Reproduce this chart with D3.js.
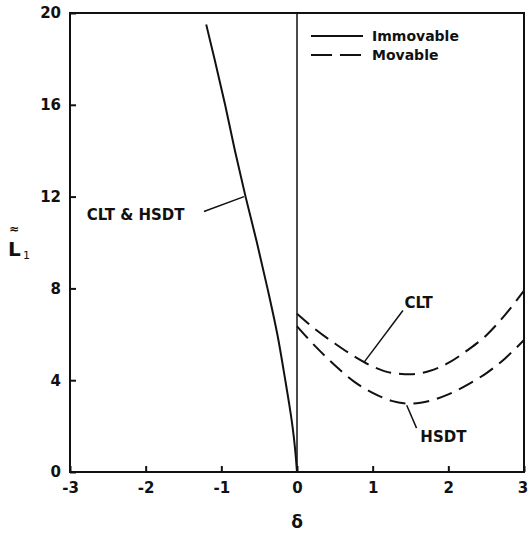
<!DOCTYPE html>
<html>
<head>
<meta charset="utf-8">
<script src="https://cdn.jsdelivr.net/npm/d3@7"></script>
<style>
  body { margin: 0; background: #fff; }
  svg { display: block; }
  text { font-family: "DejaVu Sans", sans-serif; font-weight: bold; fill: #111; }
</style>
</head>
<body>
<div id="chart"></div>
<script>
// axis ticks
const xTicks = [-3, -2, -1, 0, 1, 2, 3];
const yTicks = [0, 4, 8, 12, 16, 20];

// immovable (CLT & HSDT coincide), delta < 0
const immovableDelta = [-1.20, -1.09, -0.95, -0.82, -0.68, -0.53, -0.39, -0.26, -0.155, -0.105, -0.06, -0.025, 0];
const immovableL = [19.5, 18, 16, 14, 12, 10, 8, 6, 4, 3, 2, 1, 0];

// movable, delta > 0
const movableDelta = [0, 0.25, 0.5, 0.75, 1, 1.25, 1.5, 1.75, 2, 2.25, 2.5, 2.75, 3];
const movableCLT = [6.9, 6.2, 5.6, 5.05, 4.6, 4.32, 4.26, 4.4, 4.75, 5.3, 5.95, 6.85, 7.9];
const movableHSDT = [6.35, 5.45, 4.65, 3.95, 3.45, 3.1, 2.98, 3.1, 3.38, 3.8, 4.3, 4.95, 5.75];

// curve labels: text position, leader start, leader end (data units)
const labelNames = ["CLT & HSDT", "CLT", "HSDT"];
const labelAt = [[-2.78, 11.0], [1.42, 7.13], [1.63, 1.32]];
const leaderFrom = [[-1.23, 11.35], [1.40, 7.04], [1.45, 2.91]];
const leaderTo = [[-0.70, 12.0], [0.89, 4.80], [1.58, 1.91]];

const legendNames = ["Immovable", "Movable"];

const width = 528, height = 535;
const margin = { top: 13, right: 4, bottom: 63, left: 70 };

const svg = d3.select("#chart").append("svg")
  .attr("width", width)
  .attr("height", height);

const x = d3.scaleLinear().domain([-3, 3]).range([margin.left, width - margin.right]);
const y = d3.scaleLinear().domain([0, 20]).range([height - margin.bottom, margin.top]);

// frame
svg.append("rect")
  .attr("x", x(-3)).attr("y", y(20))
  .attr("width", x(3) - x(-3)).attr("height", y(0) - y(20))
  .attr("fill", "none").attr("stroke", "#111").attr("stroke-width", 2);

// x axis
const xAxis = svg.append("g")
  .attr("transform", `translate(0,${y(0)})`)
  .call(d3.axisBottom(x).tickValues(xTicks).tickSizeInner(-6).tickSizeOuter(0).tickPadding(10)
    .tickFormat(d => d < 0 ? "-" + Math.abs(d) : d));
xAxis.select(".domain").remove();
xAxis.selectAll("line").attr("stroke", "#111").attr("stroke-width", 2);
xAxis.selectAll("text").style("font-size", "15px").style("font-family", "DejaVu Sans").style("font-weight", "bold");
xAxis.selectAll("text").filter(d => d === 3).attr("dx", "-0.1em");

// y axis
const yAxis = svg.append("g")
  .attr("transform", `translate(${x(-3)},0)`)
  .call(d3.axisLeft(y).tickValues(yTicks).tickSizeInner(-6).tickSizeOuter(0).tickPadding(9));
yAxis.select(".domain").remove();
yAxis.selectAll("line").attr("stroke", "#111").attr("stroke-width", 2);
yAxis.selectAll("text").style("font-size", "15px").style("font-family", "DejaVu Sans").style("font-weight", "bold");

// delta = 0 line
svg.append("line")
  .attr("x1", x(0)).attr("x2", x(0))
  .attr("y1", y(0)).attr("y2", y(20))
  .attr("stroke", "#111").attr("stroke-width", 1.5);

// immovable curve
const immovable = immovableDelta.map((d, i) => [d, immovableL[i]]);
svg.append("path")
  .datum(immovable)
  .attr("fill", "none").attr("stroke", "#111").attr("stroke-width", 2)
  .attr("d", d3.line().x(d => x(d[0])).y(d => y(d[1])).curve(d3.curveMonotoneY));

// movable curves
const movLine = d3.line().x(d => x(d[0])).y(d => y(d[1])).curve(d3.curveMonotoneX);
[movableCLT, movableHSDT].forEach(vals => {
  svg.append("path")
    .datum(movableDelta.map((d, i) => [d, vals[i]]))
    .attr("fill", "none").attr("stroke", "#111").attr("stroke-width", 2)
    .attr("stroke-dasharray", "16,8")
    .attr("d", movLine);
});

// labels with leader lines
labelNames.forEach((name, i) => {
  svg.append("text")
    .attr("x", x(labelAt[i][0])).attr("y", y(labelAt[i][1]))
    .style("font-size", "15px")
    .text(name);
  svg.append("line")
    .attr("x1", x(leaderFrom[i][0])).attr("y1", y(leaderFrom[i][1]))
    .attr("x2", x(leaderTo[i][0])).attr("y2", y(leaderTo[i][1]))
    .attr("stroke", "#111").attr("stroke-width", 1.5);
});

// legend
const legend = svg.append("g").attr("transform", "translate(311,36)");
legendNames.forEach((name, i) => {
  legend.append("line")
    .attr("x1", 0).attr("x2", 52)
    .attr("y1", i * 19).attr("y2", i * 19)
    .attr("stroke", "#111").attr("stroke-width", 2)
    .attr("stroke-dasharray", i === 1 ? "21,8" : null);
  legend.append("text")
    .attr("x", 61).attr("y", i * 19).attr("dy", "0.35em")
    .style("font-size", "14px")
    .text(name);
});

// axis titles
svg.append("text")
  .attr("x", x(0)).attr("y", 528)
  .attr("text-anchor", "middle")
  .style("font-size", "17px")
  .text("δ");

const yTitle = svg.append("g").attr("transform", "translate(8,256)");
yTitle.append("text")
  .attr("x", 0).attr("y", 0)
  .style("font-size", "20px").style("font-weight", "bold")
  .text("L");
yTitle.append("text")
  .attr("x", 1).attr("y", -23)
  .style("font-size", "12px").style("font-weight", "bold")
  .text("≈");
yTitle.append("text")
  .attr("x", 15).attr("y", 3)
  .style("font-size", "11px").style("font-weight", "normal")
  .text("1");
</script>
</body>
</html>
